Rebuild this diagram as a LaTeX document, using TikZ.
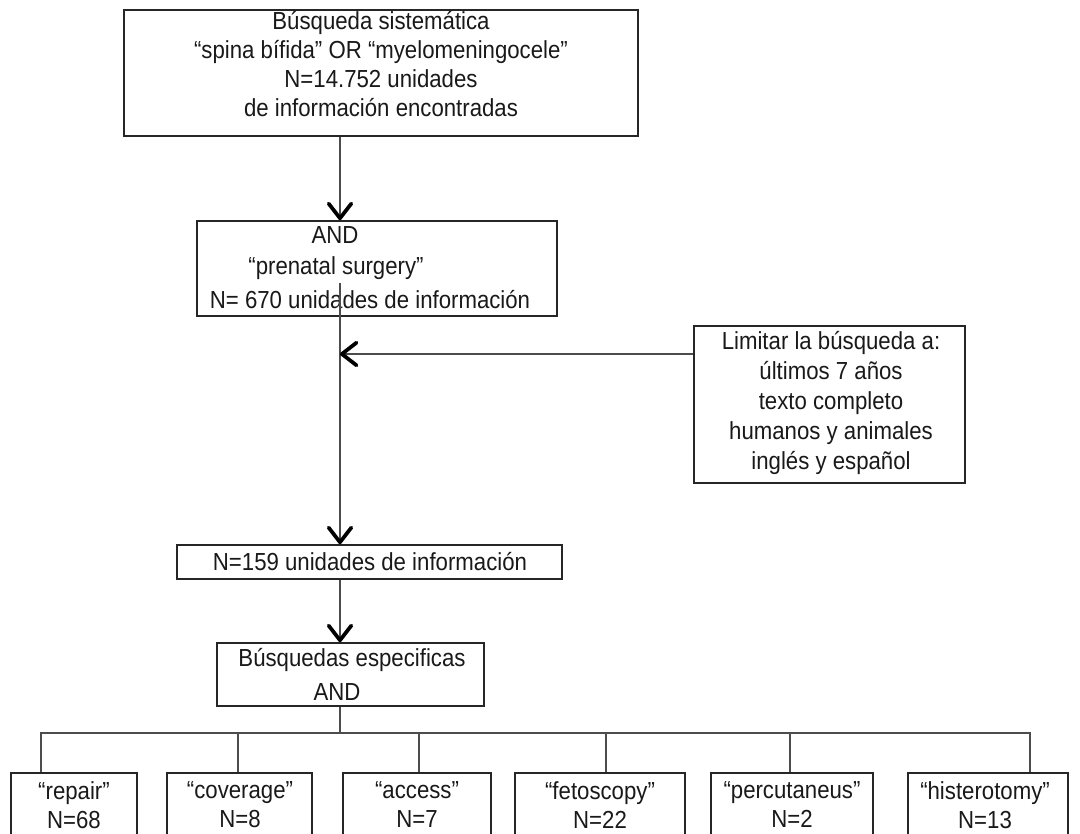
\documentclass[tikz,border=0pt]{standalone}
\usepackage{fontspec}
\setmainfont{Liberation Sans}[FakeStretch=0.9]
\usetikzlibrary{arrows.meta,fit}
\begin{document}
\begin{tikzpicture}[x=0.75pt,y=-0.75pt,
  box/.style={draw=black!85, line width=1.3pt, inner sep=0pt},
  txt/.style={align=center, font=\fontsize{18.5}{21.75}\selectfont, inner sep=0pt, text=black!90},
  conn/.style={draw=black!70, line width=1.1pt},
  arr/.style={conn, -{Straight Barb[length=11pt,width=17pt,line width=2.8pt,round,color=black]}}]
\useasboundingbox (0,0) rectangle (1080,834);
\clip (0,0) rectangle (1080,834);
% boxes
\node[box, fit={(124,10) (638,136)}] (b1) {};
\node[box, fit={(197,221) (557,316)}] (b2) {};
\node[box, fit={(694,326) (965,483)}] (lim) {};
\node[box, fit={(177,545) (562,579)}] (b3) {};
\node[box, fit={(217,643) (484,706)}] (b4) {};
\node[box, fit={(11,773) (137,870)}] (r1) {};
\node[box, fit={(167,773) (312,870)}] (r2) {};
\node[box, fit={(343,773) (491,870)}] (r3) {};
\node[box, fit={(515,773) (685,870)}] (r4) {};
\node[box, fit={(711,773) (873,870)}] (r5) {};
\node[box, fit={(908,773) (1068,870)}] (r6) {};
% texts
\node[txt] (t1) at (381,64) {Búsqueda sistemática\\“spina bífida" OR “myelomeningocele"\\N=14.752 unidades\\de información encontradas};
\node[txt] (t2a) at (335,235) {AND};
\node[txt] (t2b) at (336,268) {“prenatal surgery"};
\node[txt] (t2c) at (370,300) {N= 670 unidades de información};
\node[txt, font=\fontsize{18.5}{22.5}\selectfont] (tl) at (831,403) {Limitar la búsqueda a:\\últimos 7 años\\texto completo\\humanos y animales\\inglés y español};
\node[txt] (t3) at (370,562) {N=159 unidades de información};
\node[txt] (t4a) at (352,660) {Búsquedas especificas};
\node[txt] (t4b) at (337,692) {AND};
\node[txt] (tr1) at (74,805) {“repair"\\N=68};
\node[txt] (tr2) at (240,805) {“coverage"\\N=8};
\node[txt] (tr3) at (417,805) {“access"\\N=7};
\node[txt] (tr4) at (600,805) {“fetoscopy"\\N=22};
\node[txt] (tr5) at (792,805) {“percutaneus"\\N=2};
\node[txt] (tr6) at (985,805) {“histerotomy"\\N=13};
% connectors
\coordinate (ax) at (340,0);
\coordinate (s2) at (340,283);
\coordinate (h) at (0,354);
\draw[arr] (b1.south -| ax) -- (b2.north -| ax);
\draw[arr] (s2) -- (b3.north -| ax);
\draw[arr] (lim.west |- h) -- (ax |- h);
\draw[arr] (b3.south -| ax) -- (b4.north -| ax);
\coordinate (d1) at (41,733);
\coordinate (d2) at (238,733);
\coordinate (d3) at (419,733);
\coordinate (d4) at (606,733);
\coordinate (d5) at (790,733);
\coordinate (d6) at (1030,733);
\draw[conn] (b4.south -| ax) -- (ax |- d1);
\draw[conn] (r1.north -| d1) -- (d1) -- (d6) -- (r6.north -| d6);
\draw[conn] (d2) -- (r2.north -| d2);
\draw[conn] (d3) -- (r3.north -| d3);
\draw[conn] (d4) -- (r4.north -| d4);
\draw[conn] (d5) -- (r5.north -| d5);
\end{tikzpicture}
\end{document}
